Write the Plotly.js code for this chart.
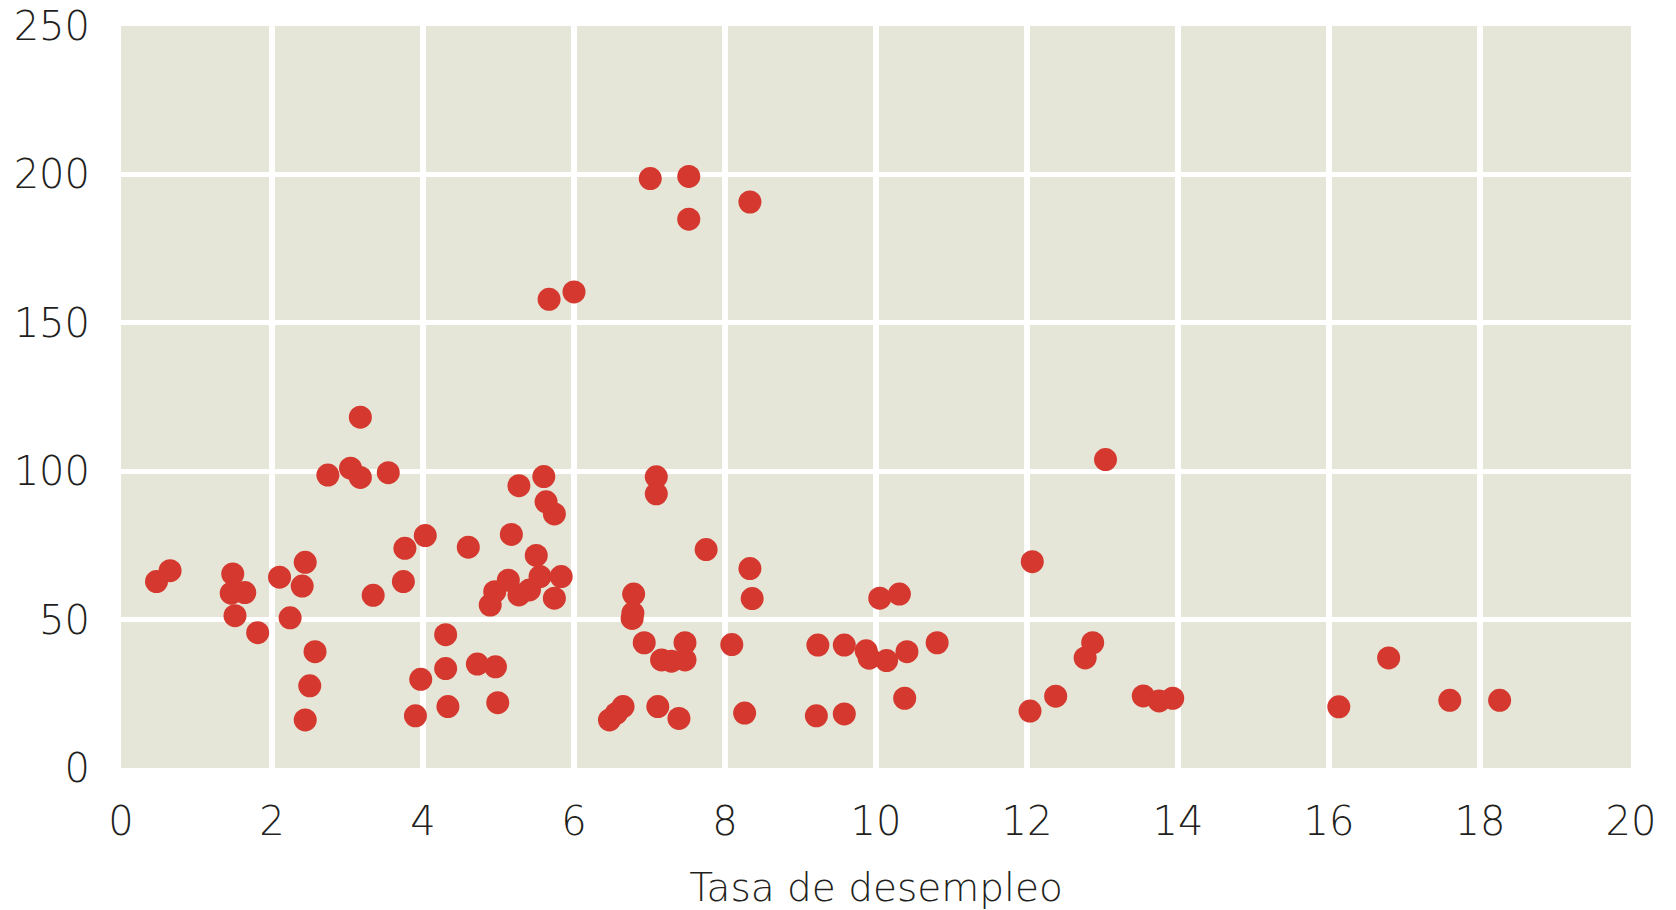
<!DOCTYPE html>
<html>
<head>
<meta charset="utf-8">
<script src="https://cdn.plot.ly/plotly-3.0.1.min.js"></script>
<style>
  html, body { margin: 0; padding: 0; background: #ffffff; }
  #chart { width: 1676px; height: 910px; }
</style>
</head>
<body>
<div id="chart"></div>
<script>
// Tasa de desempleo (x) vs. valor (y)
const desempleo = [
  0.47, 0.65, 1.48, 1.46, 1.64, 1.51, 1.81, 2.10, 2.44, 2.40, 2.24, 2.57, 2.50, 2.44,
  2.74, 3.04, 3.17, 3.17, 3.54, 3.34, 3.74, 3.76, 4.03,
  3.97, 3.90, 4.30, 4.30, 4.33, 4.60, 4.72, 4.96, 4.99,
  4.89, 4.95, 5.13, 5.27, 5.41, 5.55, 5.83, 5.74, 5.17, 5.50, 5.27, 5.60, 5.63, 5.74,
  5.67, 6.00, 7.01, 7.52, 7.52, 8.33,
  7.09, 7.09, 7.75, 8.33, 8.36,
  6.79, 6.77, 6.78, 6.93, 7.16, 7.29, 7.47, 7.47, 8.09,
  6.47, 6.56, 6.65, 7.11, 7.39, 8.26,
  9.23, 9.58, 9.87, 9.91, 10.14, 10.41, 10.81, 10.05, 10.31, 10.38, 9.21, 9.58,
  12.07, 12.04, 12.38, 12.77, 12.87, 13.04, 13.54, 13.75, 13.93,
  16.13, 16.79, 17.60, 18.26
];
const valores = [
  62.8, 66.5, 65.4, 58.9, 59.1, 51.3, 45.6, 64.3, 69.3, 61.3, 50.6, 39.2, 27.7, 16.2,
  98.7, 101.0, 97.9, 118.2, 99.5, 58.2, 62.8, 74.0, 78.3,
  29.9, 17.6, 44.9, 33.5, 20.7, 74.4, 35.0, 34.1, 22.0,
  54.9, 59.4, 63.3, 58.3, 60.0, 64.5, 64.5, 57.2, 78.7, 71.6, 95.1, 98.2, 89.7, 85.6,
  157.9, 160.4, 198.6, 199.3, 184.9, 190.7,
  98.1, 92.4, 73.6, 67.2, 57.1,
  58.6, 50.4, 52.2, 42.2, 36.4, 36.0, 36.4, 42.2, 41.6,
  16.2, 18.4, 20.7, 20.7, 16.7, 18.5,
  41.4, 41.4, 39.5, 37.0, 36.2, 39.2, 42.2, 57.2, 58.6, 23.5, 17.6, 18.2,
  69.5, 19.2, 24.2, 37.1, 42.2, 103.9, 24.3, 22.6, 23.5,
  20.6, 37.1, 22.8, 22.8
];
const xTicks = [0, 2, 4, 6, 8, 10, 12, 14, 16, 18, 20];
const yTicks = [0, 50, 100, 150, 200, 250];
const xTitle = "Tasa de desempleo";

const tickFont = { family: "DejaVu Sans, sans-serif", size: 40, color: "#231f20", weight: 200 };
const titleFont = { family: "DejaVu Sans, sans-serif", size: 39, color: "#231f20", weight: 200 };

const trace = {
  type: "scatter",
  mode: "markers",
  x: desempleo,
  y: valores,
  marker: { color: "#d5382e", size: 23, line: { width: 0 } },
  hoverinfo: "x+y"
};

const layout = {
  width: 1676,
  height: 910,
  paper_bgcolor: "#ffffff",
  plot_bgcolor: "#e5e6d8",
  showlegend: false,
  margin: { l: 121, r: 45, t: 26, b: 142 },
  font: tickFont,
  xaxis: {
    range: [0, 20],
    tickvals: xTicks,
    ticktext: xTicks.map(String),
    showgrid: true,
    gridcolor: "#ffffff",
    gridwidth: 6,
    zeroline: false,
    showline: false,
    ticks: "outside",
    ticklen: 18,
    tickcolor: "rgba(0,0,0,0)",
    tickfont: tickFont,
    title: { text: xTitle, font: titleFont, standoff: 30 },
    automargin: false,
    fixedrange: true
  },
  yaxis: {
    range: [0, 250],
    tickvals: yTicks,
    ticktext: yTicks.map(String),
    showgrid: true,
    gridcolor: "#ffffff",
    gridwidth: 5,
    zeroline: false,
    showline: false,
    ticks: "outside",
    ticklen: 22,
    tickcolor: "rgba(0,0,0,0)",
    tickfont: tickFont,
    automargin: false,
    fixedrange: true
  }
};

Plotly.newPlot("chart", [trace], layout, { displayModeBar: false, staticPlot: true });
</script>
</body>
</html>
